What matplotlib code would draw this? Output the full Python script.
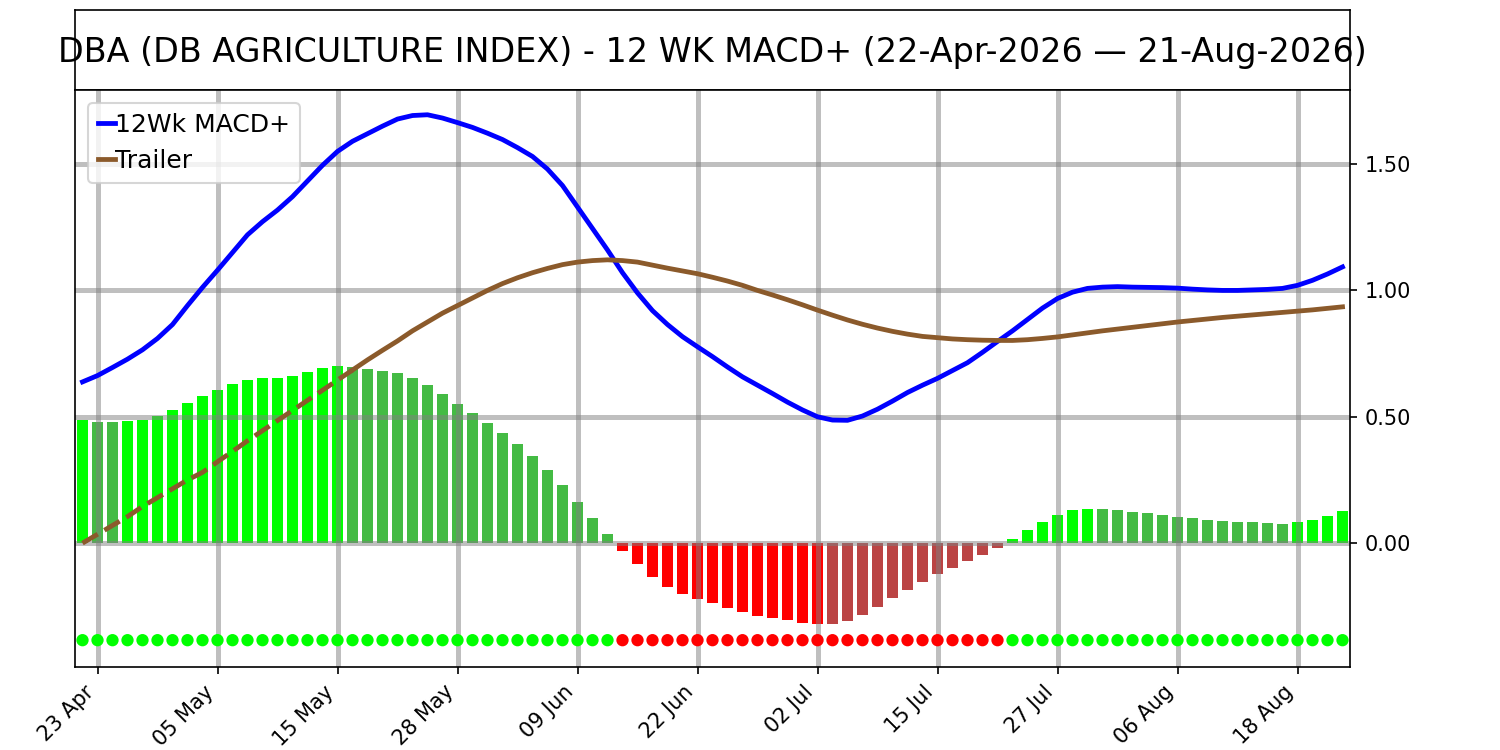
import matplotlib
matplotlib.use("Agg")
import matplotlib.pyplot as plt
import numpy as np
import pandas as pd

# trading days 22-Apr-2026 .. 21-Aug-2026 (US holidays skipped)
holidays = ["2026-05-25", "2026-06-19", "2026-07-03"]
dates = pd.bdate_range("2026-04-22", "2026-08-21", freq="C", holidays=holidays)

macd = [0.638, 0.663, 0.695, 0.728, 0.765, 0.810, 0.865, 0.940, 1.012, 1.080,
        1.150, 1.220, 1.272, 1.318, 1.371, 1.433, 1.495, 1.550, 1.590, 1.620,
        1.650, 1.678, 1.692, 1.695, 1.682, 1.664, 1.645, 1.622, 1.597, 1.565,
        1.530, 1.480, 1.415, 1.330, 1.245, 1.160, 1.070, 0.990, 0.920, 0.865,
        0.817, 0.777, 0.738, 0.697, 0.658, 0.625, 0.592, 0.558, 0.527, 0.500,
        0.487, 0.486, 0.503, 0.530, 0.562, 0.596, 0.625, 0.652, 0.683, 0.714,
        0.755, 0.798, 0.840, 0.885, 0.930, 0.968, 0.993, 1.008, 1.013, 1.015,
        1.013, 1.012, 1.011, 1.009, 1.005, 1.002, 1.000, 1.000, 1.002, 1.004,
        1.008, 1.020, 1.040, 1.065, 1.093]

trailer = [0.000, 0.035, 0.070, 0.105, 0.145, 0.180, 0.215, 0.250, 0.280, 0.322,
           0.363, 0.405, 0.445, 0.485, 0.525, 0.565, 0.605, 0.645, 0.685, 0.725,
           0.763, 0.800, 0.840, 0.875, 0.910, 0.940, 0.970, 1.000, 1.027, 1.050,
           1.070, 1.087, 1.102, 1.112, 1.118, 1.121, 1.118, 1.112, 1.100, 1.088,
           1.077, 1.066, 1.052, 1.037, 1.020, 1.000, 0.982, 0.963, 0.943, 0.922,
           0.902, 0.883, 0.866, 0.851, 0.838, 0.827, 0.818, 0.813, 0.808, 0.805,
           0.803, 0.802, 0.802, 0.805, 0.810, 0.816, 0.824, 0.832, 0.840, 0.847,
           0.854, 0.861, 0.868, 0.875, 0.881, 0.887, 0.893, 0.898, 0.903, 0.908,
           0.913, 0.918, 0.923, 0.929, 0.935]

hist = [0.487, 0.479, 0.478, 0.483, 0.489, 0.505, 0.526, 0.554, 0.582, 0.605,
        0.629, 0.645, 0.652, 0.655, 0.661, 0.677, 0.692, 0.700, 0.696, 0.691,
        0.681, 0.673, 0.653, 0.625, 0.590, 0.550, 0.514, 0.475, 0.435, 0.392,
        0.344, 0.289, 0.230, 0.162, 0.099, 0.037, -0.030, -0.084, -0.133, -0.173,
        -0.200, -0.220, -0.236, -0.256, -0.272, -0.288, -0.296, -0.303, -0.315, -0.319,
        -0.318, -0.307, -0.284, -0.252, -0.216, -0.185, -0.153, -0.121, -0.098, -0.070,
        -0.046, -0.019, 0.018, 0.051, 0.083, 0.111, 0.131, 0.135, 0.134, 0.131,
        0.123, 0.119, 0.111, 0.103, 0.099, 0.091, 0.087, 0.083, 0.082, 0.079,
        0.077, 0.082, 0.091, 0.107, 0.126]

warmup = 18          # trailer drawn dashed up to here
dot_level = -0.384
tick_step = 8

x = np.arange(len(hist))
h = np.array(hist)
prev = np.concatenate([[h[0] - 1], h[:-1]])
bar_colors = []
for v, p in zip(h, prev):
    if v >= 0:
        bar_colors.append("#00ff00" if v > p else "#44bb44")
    else:
        bar_colors.append("#ff0000" if v < p else "#bb4444")
dot_colors = ["#00ff00" if v >= 0 else "#ff0000" for v in h]

fig = plt.figure(figsize=(10, 5), dpi=150)
tax = fig.add_axes([0.05, 0.88, 0.85, 0.1067])
tax.set_xticks([])
tax.set_yticks([])
tax.text(0.5, 0.47, "DBA (DB AGRICULTURE INDEX) - 12 WK MACD+ (22-Apr-2026 \u2014 21-Aug-2026)",
         ha="center", va="center", fontsize=16, transform=tax.transAxes)

ax = fig.add_axes([0.05, 0.1107, 0.85, 0.7693])
ax.bar(x, h, width=0.72, color=bar_colors)
ax.plot(x, macd, color="blue", lw=2.3, label="12Wk MACD+")
ax.plot(x[:warmup + 1], trailer[:warmup + 1], color="#8b5a2b", lw=2.3, ls="--")
ax.plot(x[warmup:], trailer[warmup:], color="#8b5a2b", lw=2.3, label="Trailer")
ax.scatter(x, [dot_level] * len(x), c=dot_colors, s=24, zorder=3)

ax.set_xlim(-0.5, len(x) - 0.5)
ax.set_ylim(-0.49, 1.793)
ax.set_yticks([0, 0.5, 1.0, 1.5])
ax.set_yticklabels(["%.2f" % t for t in [0, 0.5, 1.0, 1.5]])
ax.yaxis.tick_right()
ticks = list(range(1, len(x), tick_step))
ax.set_xticks(ticks)
ax.set_xticklabels([dates[i].strftime("%d %b") for i in ticks], rotation=45, ha="right")
ax.grid(True, color="grey", alpha=0.5, lw=2.4)
ax.legend(loc="upper left", handlelength=0.7, handletextpad=0.0, fontsize=12)

plt.savefig("out.png")
